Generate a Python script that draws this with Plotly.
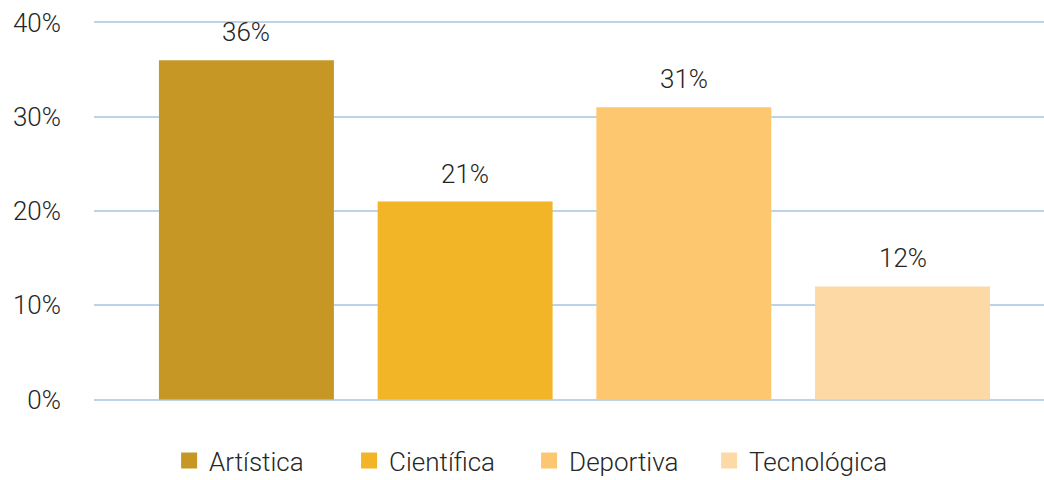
import plotly.graph_objects as go

categories = ["Artística", "Científica", "Deportiva", "Tecnológica"]
values = [36, 21, 31, 12]
colors = ["#C69724", "#F2B528", "#FDC76F", "#FDD9A5"]
y_ticks = [0, 10, 20, 30, 40]

FONT = "Roboto, sans-serif"
TEXT = "#262626"

fig = go.Figure()
for cat, val, col in zip(categories, values, colors):
    fig.add_trace(
        go.Bar(
            x=[cat],
            y=[val],
            name=cat,
            legendgroup=cat,
            showlegend=False,
            marker=dict(color=col, line=dict(width=0)),
            width=0.8,
        )
    )
    # legend entry with a bigger square swatch
    fig.add_trace(
        go.Scatter(
            x=[None],
            y=[None],
            mode="markers",
            name=cat,
            legendgroup=cat,
            marker=dict(symbol="square", size=18, color=col),
        )
    )
    fig.add_annotation(
        x=cat,
        y=val,
        text=f"{val}%",
        showarrow=False,
        yanchor="bottom",
        yshift=11,
        font=dict(family=FONT, size=26, color=TEXT, weight=300),
    )

fig.update_layout(
    width=1044,
    height=480,
    margin=dict(l=94, r=0, t=13, b=71, autoexpand=False),
    paper_bgcolor="white",
    plot_bgcolor="white",
    font=dict(family=FONT, size=26, color=TEXT, weight=300),
    barmode="overlay",
    showlegend=True,
    legend=dict(
        orientation="h",
        x=0.458,
        xanchor="center",
        y=-0.071,
        yanchor="top",
        font=dict(family=FONT, size=26, color=TEXT, weight=300),
        itemwidth=30,
        entrywidth=135,
        entrywidthmode="pixels",
        traceorder="normal",
    ),
)
fig.update_xaxes(
    type="category",
    categoryorder="array",
    categoryarray=categories,
    range=[-0.697, 3.647],
    showticklabels=False,
    showgrid=False,
    zeroline=False,
    showline=False,
)
fig.update_yaxes(
    range=[-1, 41],
    tickvals=y_ticks,
    ticktext=[f"{v}%" for v in y_ticks],
    showgrid=True,
    gridcolor="#BCD3EA",
    gridwidth=1.5,
    zeroline=False,
    showline=False,
    ticks="",
    ticklabelstandoff=32,
    tickfont=dict(family=FONT, size=26, color=TEXT, weight=300),
)

fig.write_html(
    "out.html",
    config={"displayModeBar": False},
    post_script="document.body.style.margin='0';",
)
